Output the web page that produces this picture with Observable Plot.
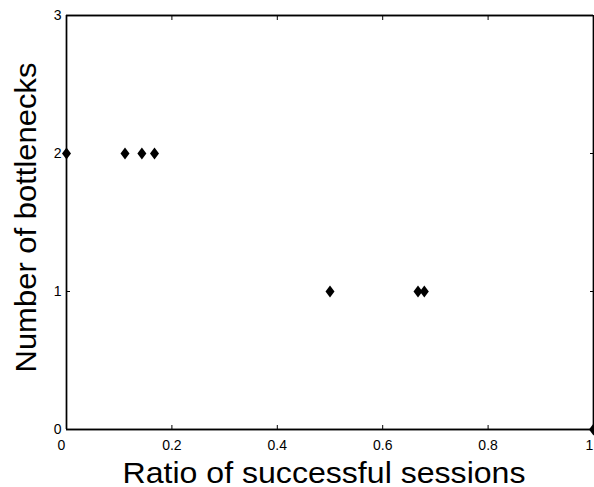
<!DOCTYPE html>
<html>
<head>
<meta charset="utf-8">
<script src="https://cdn.jsdelivr.net/npm/d3@7"></script>
<script src="https://cdn.jsdelivr.net/npm/@observablehq/plot@0.6"></script>
<style>
  html, body { margin: 0; padding: 0; background: #fff; }
  #chart { position: relative; width: 594px; height: 487px; }
  #chart svg { display: block; }
  #chart svg.overlay { position: absolute; left: 0; top: 0; pointer-events: none; }
</style>
</head>
<body>
<div id="chart"></div>
<script>
const ratio = [0, 0.111, 0.143, 0.167, 0.5, 0.667, 0.679, 1];
const bottlenecks = [2, 2, 2, 2, 1, 1, 1, 0];
const xTicks = [0, 0.2, 0.4, 0.6, 0.8, 1];
const xTickLabels = ["0", "0.2", "0.4", "0.6", "0.8", "1"];
const yTicks = [0, 1, 2, 3];
const yTickLabels = ["0", "1", "2", "3"];
const xTitle = "Ratio of successful sessions";
const yTitle = "Number of bottlenecks";

const points = ratio.map((r, i) => ({ratio: r, n: bottlenecks[i]}));
const xLabel = (d) => xTickLabels[xTicks.indexOf(d)];
const yLabel = (d) => yTickLabels[yTicks.indexOf(d)];
const xMid = xTicks.slice(1, -1);
const xDomain = [xTicks[0], xTicks[xTicks.length - 1]];
const yDomain = [yTicks[0], yTicks[yTicks.length - 1]];

const diamond = {
  draw(context, size) {
    const r = Math.sqrt(size / Math.PI);
    const h = r * 1.65, w = r * 1.24;
    context.moveTo(0, -h);
    context.lineTo(w, 0);
    context.lineTo(0, h);
    context.lineTo(-w, 0);
    context.closePath();
  }
};

const layout = {
  width: 594,
  height: 487,
  marginLeft: 66,
  marginRight: 1,
  marginTop: 15,
  marginBottom: 58,
  x: {domain: xDomain},
  y: {domain: yDomain}
};

const chart = Plot.plot({
  ...layout,
  style: {fontFamily: "Liberation Sans", background: "#fff", color: "#000"},
  marks: [
    Plot.ruleX(xDomain, {stroke: "#000", strokeWidth: 1.4}),
    Plot.ruleY(yDomain, {stroke: "#000", strokeWidth: 1.4}),
    Plot.axisX(xTicks, {anchor: "bottom", tickSize: -4, tickFormat: () => "", label: null, stroke: "#000"}),
    Plot.axisX(xMid, {anchor: "bottom", tickSize: 0, tickPadding: 11, fontSize: 14, tickFormat: xLabel, label: null, fill: "#000"}),
    Plot.axisX([xTicks[0]], {anchor: "bottom", tickSize: 0, tickPadding: 11, fontSize: 14, dx: -5, tickFormat: xLabel, label: null, fill: "#000"}),
    Plot.axisX([xTicks[xTicks.length - 1]], {anchor: "bottom", tickSize: 0, tickPadding: 11, fontSize: 14, dx: -4, tickFormat: xLabel, label: null, fill: "#000"}),
    Plot.axisX(xTicks, {anchor: "top", tickSize: -4, tickFormat: () => "", label: null, stroke: "#000"}),
    Plot.axisY(yTicks, {anchor: "left", tickSize: -4, tickFormat: () => "", label: null, stroke: "#000"}),
    Plot.axisY(yTicks, {anchor: "left", tickSize: 0, tickPadding: 5, fontSize: 14, tickFormat: yLabel, label: null, fill: "#000"}),
    Plot.axisY(yTicks, {anchor: "right", tickSize: -4, tickFormat: () => "", label: null, stroke: "#000"}),
    Plot.dot(points, {x: "ratio", y: "n", symbol: diamond, r: 3.64, fill: "#000"}),
    Plot.text([xTitle], {frameAnchor: "bottom", dx: -6, dy: 53, fontSize: 29, fill: "#000", lineAnchor: "bottom", textAnchor: "middle"}),
    Plot.text([yTitle], {frameAnchor: "left", dx: -40, dy: -5, rotate: -90, fontSize: 29, fill: "#000", textAnchor: "middle", lineAnchor: "middle"})
  ]
});

// the plot box, drawn by a second Plot chart with identical scales laid over the first
const boxLayer = Plot.plot({
  ...layout,
  className: "overlay",
  style: {background: "transparent", color: "#000"},
  axis: null,
  marks: [
    Plot.ruleX(xDomain, {stroke: "#000", strokeWidth: 1.4}),
    Plot.ruleY(yDomain, {stroke: "#000", strokeWidth: 1.4})
  ]
});
boxLayer.classList.add("overlay");

const host = document.getElementById("chart");
host.appendChild(chart);
host.appendChild(boxLayer);

// stretch the titles to the reference's measured widths
for (const t of chart.querySelectorAll("text")) {
  if (t.textContent === xTitle) { t.setAttribute("textLength", 403); t.setAttribute("lengthAdjust", "spacingAndGlyphs"); }
  if (t.textContent === yTitle) { t.setAttribute("textLength", 310); t.setAttribute("lengthAdjust", "spacingAndGlyphs"); }
}
</script>
</body>
</html>
